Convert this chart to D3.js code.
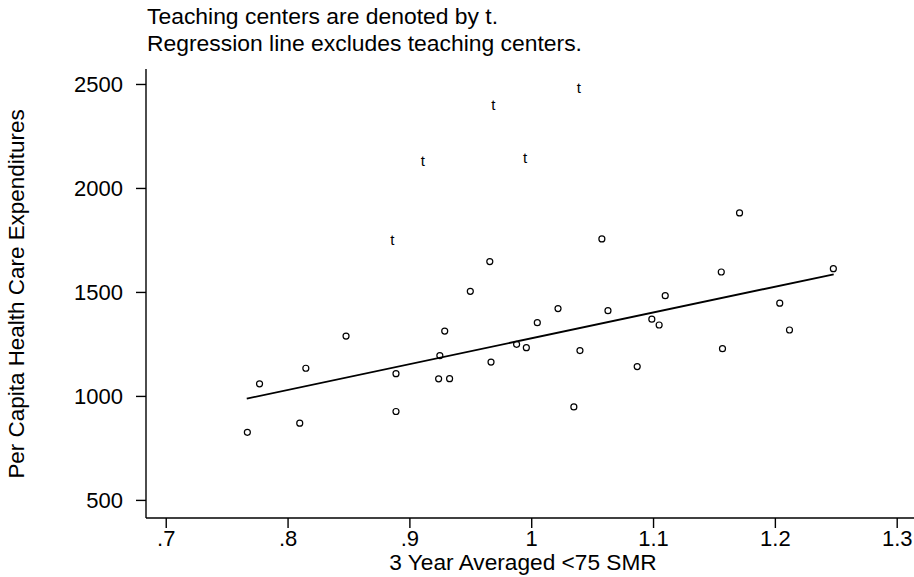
<!DOCTYPE html>
<html>
<head>
<meta charset="utf-8">
<script src="https://cdn.jsdelivr.net/npm/d3@7"></script>
<style>
  body { margin: 0; background: #fff; }
  svg { display: block; font-family: "Liberation Sans", Arial, sans-serif; }
</style>
</head>
<body>
<svg id="chart" width="914" height="577"></svg>
<script>
// non-teaching hospitals (circles)
var smr = [0.767, 0.777, 0.810, 0.815, 0.848, 0.889, 0.889, 0.929, 0.925, 0.924, 0.933,
	0.950, 0.966, 0.967, 0.988, 0.996, 1.005, 1.022, 1.035, 1.040, 1.058, 1.063,
	1.087, 1.099, 1.105, 1.110, 1.171, 1.156, 1.157, 1.204, 1.212, 1.248];
var spend = [825, 1058, 869, 1133, 1288, 1107, 925, 1312, 1194, 1082, 1083,
	1503, 1646, 1163, 1248, 1232, 1352, 1420, 947, 1218, 1755, 1410,
	1141, 1369, 1341, 1482, 1880, 1596, 1227, 1446, 1317, 1612];

// teaching centers (shown as "t")
var teachSmr = [1.039, 0.969, 0.911, 0.995, 0.886];
var teachSpend = [2484, 2402, 2133, 2146, 1753];

// regression line end points (excludes teaching centers)
var regSmr = [0.7665, 1.2483];
var regSpend = [987, 1585];

var xTicks = [0.7, 0.8, 0.9, 1.0, 1.1, 1.2, 1.3];
var xTickLabels = [".7", ".8", ".9", "1", "1.1", "1.2", "1.3"];
var yTicks = [500, 1000, 1500, 2000, 2500];

var notes = ["Teaching centers are denoted by t.", "Regression line excludes teaching centers."];
var xTitle = "3 Year Averaged <75 SMR";
var yTitle = "Per Capita Health Care Expenditures";

var svg = d3.select("#chart");
var plotLeft = 146, plotRight = 914, plotTop = 69, plotBottom = 518;
var fontSize = 22;

var x = d3.scaleLinear().domain([0.6838, 1.3142]).range([plotLeft, plotRight]);
var y = d3.scaleLinear().domain([413, 2572]).range([plotBottom, plotTop]);

// titles in the reference run a touch wider than Arial
function widen(sel, k) {
	sel.each(function () {
		var w = this.getComputedTextLength();
		d3.select(this).attr("textLength", w * k).attr("lengthAdjust", "spacingAndGlyphs");
	});
}

// notes above the plot
svg.append("g").selectAll("text")
	.data(notes)
	.enter().append("text")
	.attr("x", 147)
	.attr("y", function (d, i) { return 24 + i * 26.5; })
	.attr("font-size", fontSize)
	.attr("fill", "#000")
	.text(function (d) { return d; })
	.call(widen, 1.04);

// axes
var xAxis = svg.append("g")
	.attr("transform", "translate(0," + plotBottom + ")")
	.call(d3.axisBottom(x).tickValues(xTicks).tickSize(10).tickPadding(2)
		.tickFormat(function (d, i) { return xTickLabels[i]; }));

var yAxis = svg.append("g")
	.attr("transform", "translate(" + plotLeft + ",0)")
	.call(d3.axisLeft(y).tickValues(yTicks).tickSize(10).tickPadding(13)
		.tickFormat(d3.format("d")));

[xAxis, yAxis].forEach(function (g) {
	g.select(".domain").remove();
	g.selectAll(".tick line").attr("stroke", "#000").attr("stroke-width", 1.4);
	g.selectAll(".tick text").attr("font-size", fontSize).attr("fill", "#000")
		.attr("font-family", "\"Liberation Sans\", Arial, sans-serif");
});
yAxis.selectAll(".tick text").attr("dy", "0.36em");

svg.append("line")
	.attr("x1", plotLeft).attr("x2", plotRight)
	.attr("y1", plotBottom).attr("y2", plotBottom)
	.attr("stroke", "#000").attr("stroke-width", 1.4);
svg.append("line")
	.attr("x1", plotLeft).attr("x2", plotLeft)
	.attr("y1", plotTop).attr("y2", plotBottom)
	.attr("stroke", "#000").attr("stroke-width", 1.4);

// axis titles
svg.append("text")
	.attr("x", 523)
	.attr("y", 570)
	.attr("text-anchor", "middle")
	.attr("font-size", fontSize)
	.attr("fill", "#000")
	.text(xTitle)
	.call(widen, 1.03);

svg.append("text")
	.attr("transform", "translate(24,294) rotate(-90)")
	.attr("text-anchor", "middle")
	.attr("font-size", fontSize)
	.attr("fill", "#000")
	.text(yTitle)
	.call(widen, 1.02);

// regression line
svg.append("line")
	.attr("x1", x(regSmr[0])).attr("y1", y(regSpend[0]))
	.attr("x2", x(regSmr[1])).attr("y2", y(regSpend[1]))
	.attr("stroke", "#000").attr("stroke-width", 1.8);

// circles
svg.append("g").selectAll("circle")
	.data(smr)
	.enter().append("circle")
	.attr("cx", function (d) { return x(d); })
	.attr("cy", function (d, i) { return y(spend[i]); })
	.attr("r", 3)
	.attr("fill", "none")
	.attr("stroke", "#000")
	.attr("stroke-width", 1.2);

// teaching centers
svg.append("g").attr("opacity", 0.999).selectAll("text")
	.data(teachSmr)
	.enter().append("text")
	.attr("x", function (d) { return x(d); })
	.attr("y", function (d, i) { return y(teachSpend[i]); })
	.attr("dy", "0.35em")
	.attr("text-anchor", "middle")
	.attr("font-size", 15)
	.attr("fill", "#000")
	.text("t");
</script>
</body>
</html>
